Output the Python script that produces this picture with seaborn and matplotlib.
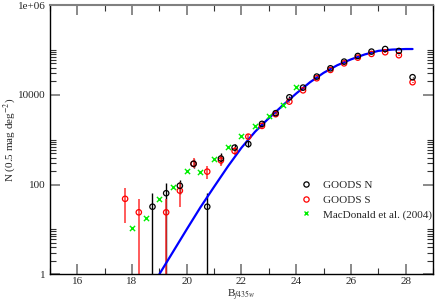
import numpy as np
import pandas as pd
import matplotlib
matplotlib.use("Agg")
import matplotlib.pyplot as plt
import seaborn as sns
from matplotlib.ticker import LogLocator, MultipleLocator, FixedFormatter, FixedLocator
from matplotlib.lines import Line2D

# GOODS N counts
gn_mag = [18.75, 19.25, 19.75, 20.25, 20.75, 21.25, 21.75, 22.25, 22.75, 23.25,
          23.75, 24.25, 24.75, 25.25, 25.75, 26.25, 26.75, 27.25, 27.75, 28.25]
gn_n = [32, 64, 94, 290, 32, 380, 665, 800, 2250, 3900,
        8800, 14500, 25500, 39000, 55000, 73500, 92000, 105000, 95000, 24700]
gn_err_lo = [32, 64, 32, 60, 32, 100, 120, 110, 200, 250,
             400, 500, 700, 900, 1100, 1300, 1500, 1600, 1500, 800]
gn_err_hi = [32, 43, 32, 80, 32, 119, 140, 120, 220, 270,
             420, 520, 720, 920, 1100, 1300, 1500, 1600, 1500, 800]

# GOODS S counts
gs_mag = [17.75, 18.25, 19.25, 19.75, 20.25, 20.75, 21.25, 21.75, 22.25, 22.75,
          23.25, 23.75, 24.25, 24.75, 25.25, 25.75, 26.25, 26.75, 27.25, 27.75, 28.25]
gs_n = [48, 24, 24, 73, 290, 194, 345, 560, 1170, 2030,
        3700, 7060, 12600, 23400, 35900, 50300, 67500, 81700, 89000, 76400, 19100]
gs_err_lo = [34, 24, 24, 42, 59, 63, 85, 110, 160, 220,
             300, 420, 560, 760, 940, 1100, 1300, 1400, 1500, 1400, 700]
gs_err_hi = [35, 23, 23, 43, 96, 66, 110, 130, 180, 240,
             320, 440, 580, 780, 960, 1100, 1300, 1400, 1500, 1400, 700]

# MacDonald et al. (2004)
md_mag = [18.0, 18.5, 19.0, 19.5, 20.0, 20.5, 21.0, 21.5, 22.0, 22.5, 23.0, 23.5, 24.0]
md_n = [10.9, 18, 48.5, 90, 200, 190, 366, 700, 1230, 2030, 3440, 5960, 15000]

# model curve
mod_mag = [19.0, 19.5, 20.0, 20.5, 21.0, 21.5, 22.0, 22.5, 23.0, 23.5,
           24.0, 24.5, 25.0, 25.5, 26.0, 26.5, 27.0, 27.5, 28.0, 28.25]
mod_n = [1.0, 3.16, 10, 31, 89, 251, 661, 1510, 3020, 5750,
         10700, 19000, 30900, 45700, 61700, 79400, 95500, 102000, 105000, 105000]

sns.set_style("ticks")
plt.rcParams['font.family'] = ['Liberation Serif', 'DejaVu Serif']
plt.rcParams['mathtext.fontset'] = 'stix'

fig = plt.figure(figsize=(4.36, 3.02), dpi=100)
ax = fig.add_axes([0.1143, 0.092, 0.879, 0.891])
ax.set_yscale('log', nonpositive='clip')

# error bars
ax.errorbar(gn_mag, gn_n, yerr=[gn_err_lo, gn_err_hi], fmt='none', ecolor='black', elinewidth=1.0)
ax.errorbar(gs_mag, gs_n, yerr=[gs_err_lo, gs_err_hi], fmt='none', ecolor='#ff3030', elinewidth=1.3, alpha=0.85)

sns.lineplot(x=mod_mag, y=mod_n, ax=ax, color='#0000ff', linewidth=1.6, sort=False)

sns.scatterplot(x=md_mag, y=md_n, ax=ax, marker='x', color='#00ee00', s=14, linewidth=1.0, zorder=4)
sns.scatterplot(x=gs_mag, y=gs_n, ax=ax, marker='o', facecolor='none', edgecolor='#ff0000', s=15, linewidth=0.9, zorder=5)
sns.scatterplot(x=gn_mag, y=gn_n, ax=ax, marker='o', facecolor='none', edgecolor='black', s=15, linewidth=0.9, zorder=6)

ax.set_xlim(15, 29)
ax.set_ylim(1, 1e6)
ax.xaxis.set_major_locator(MultipleLocator(2))
ax.xaxis.set_minor_locator(MultipleLocator(1))
ax.yaxis.set_major_locator(FixedLocator([1, 100, 1e4, 1e6]))
ax.yaxis.set_major_formatter(FixedFormatter(['1', '100', '10000', '1e+06']))
ax.yaxis.set_minor_locator(LogLocator(base=100, subs=np.arange(2, 11)))

ax.tick_params(which='both', direction='in', top=True, right=True, labelsize=8)
ax.tick_params(which='major', length=7, width=1.3, color='0.5')
ax.tick_params(axis='x', which='major', pad=2)
ax.tick_params(axis='y', which='major', pad=3)
ax.tick_params(which='minor', length=4, width=0.8, color='0.2')
ax.yaxis.set_minor_formatter(plt.NullFormatter())
for sp in ax.spines.values():
    sp.set_color('black')
    sp.set_linewidth(1.0)
ax.spines['top'].set_color('0.5')
ax.spines['top'].set_linewidth(1.5)

ax.set_xlabel('B$_{f435w}$', fontsize=8)
ax.set_ylabel('N (0.5 mag deg$^{-2}$)', fontsize=8)
ax.xaxis.set_label_coords(0.5, -0.049)
ax.yaxis.set_label_coords(-0.083, 0.5)

handles = [
    Line2D([], [], ls='none', marker='o', mfc='none', mec='black', ms=3.8, mew=0.9),
    Line2D([], [], ls='none', marker='o', mfc='none', mec='#ff0000', ms=3.8, mew=0.9),
    Line2D([], [], ls='none', marker='x', color='#00ee00', ms=3.5, mew=1.0),
]
ax.legend(handles, ['GOODS N', 'GOODS S', 'MacDonald et al. (2004)'],
          loc='upper left', bbox_to_anchor=(0.655, 0.35), frameon=False,
          fontsize=8, handlelength=1.0, handletextpad=1.0, labelspacing=0.45,
          borderaxespad=0, borderpad=0)

fig.savefig('out.png', dpi=100)
